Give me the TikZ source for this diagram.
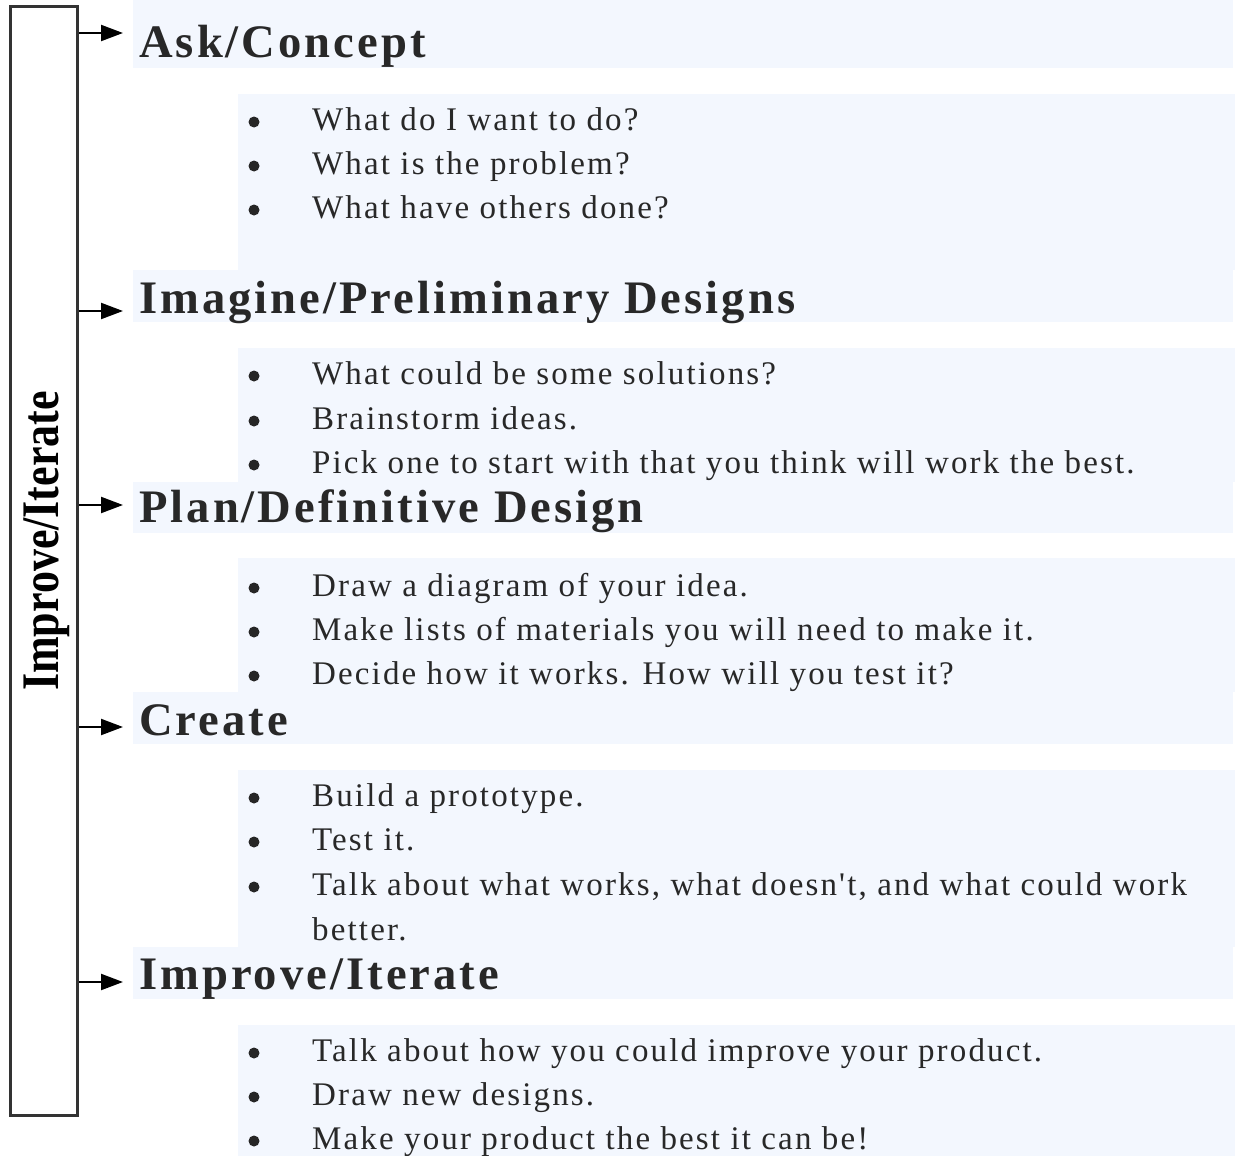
\documentclass[tikz,border=0pt]{standalone}
\usepackage{fontspec}
\setmainfont{Liberation Serif}
\newfontfamily\spacedserif[LetterSpace=6.5]{Liberation Serif}
\usetikzlibrary{arrows.meta}
\definecolor{band}{RGB}{243,247,254}
\definecolor{ink}{RGB}{40,40,40}
\definecolor{frame}{RGB}{51,51,51}
\tikzset{
  headband/.style={fill=band, draw=none},
  itemband/.style={fill=band, draw=none},
  heading/.style={anchor=base west, inner sep=0pt, text=ink,
    font=\spacedserif\bfseries\fontsize{46.6}{50}\selectfont},
  itemtext/.style={anchor=base west, inner sep=0pt, text=ink,
    font=\spacedserif\fontsize{33}{45}\selectfont},
  dot/.style={circle, fill=black!85, inner sep=0pt, minimum size=11pt},
  flow/.style={line width=2.2pt, draw=black,
    -{Triangle[length=22pt, width=16pt]}},
}
\begin{document}
\begin{tikzpicture}[x=1pt, y=-1pt]
\useasboundingbox (0,0) rectangle (1235,1156);

% shaded bands behind headings and item lists
\fill[headband] (133,0)   rectangle (1233,68);
\fill[itemband] (238,94)  rectangle (1235,270);
\fill[headband] (133,270) rectangle (1233,322);
\fill[itemband] (238,348) rectangle (1235,482);
\fill[headband] (133,482) rectangle (1233,533);
\fill[itemband] (238,558) rectangle (1235,692);
\fill[headband] (133,692) rectangle (1233,744);
\fill[itemband] (238,770) rectangle (1235,947);
\fill[headband] (133,947) rectangle (1233,999);
\fill[itemband] (238,1025) rectangle (1235,1156);

% iteration frame on the left
\node[draw=frame, line width=3pt, minimum width=67pt, minimum height=1108pt,
      inner sep=0pt] (loop) at (44,561) {};
\node[rotate=90, inner sep=0pt, text=black,
      font=\bfseries\fontsize{44}{48}\selectfont] (looplabel) at (47,541)
      {\scalebox{1}[1.2]{Improve/Iterate}};

% headings
\node[heading] (h1) at (139,58)  {Ask/Concept};
\node[heading] (h2) at (139,313) {Imagine/Preliminary Designs};
\node[heading] (h3) at (139,522) {Plan/Definitive Design};
\node[heading] (h4) at (139,735) {Create};
\node[heading] (h5) at (139,989) {Improve/Iterate};

% arrows from the frame into each stage
\coordinate (t1) at (123,33);
\coordinate (t2) at (123,311);
\coordinate (t3) at (123,505);
\coordinate (t4) at (123,727);
\coordinate (t5) at (123,982);
\foreach \k in {1,...,5}
  \draw[flow] (loop.east |- t\k) -- (t\k);

% bulleted items
\foreach \y/\txt [count=\i] in {
  130/{What do I want to do?},
  174/{What is the problem?},
  218/{What have others done?},
  384/{What could be some solutions?},
  429/{Brainstorm ideas.},
  473/{Pick one to start with that you think will work the best.},
  596/{Draw a diagram of your idea.},
  640/{Make lists of materials you will need to make it.},
  684/{Decide how it works. How will you test it?},
  806/{Build a prototype.},
  850/{Test it.},
  895/{Talk about what works, what doesn't, and what could work},
  1061/{Talk about how you could improve your product.},
  1105/{Draw new designs.},
  1149/{Make your product the best it can be!}} {
  \node[dot] (b\i) at (254,\y-8) {};
  \node[itemtext] (it\i) at (312,\y) {\txt};
}
% wrapped continuation of the long Create item
\node[itemtext] (it12b) at (312,940) {better.};
\end{tikzpicture}
\end{document}
